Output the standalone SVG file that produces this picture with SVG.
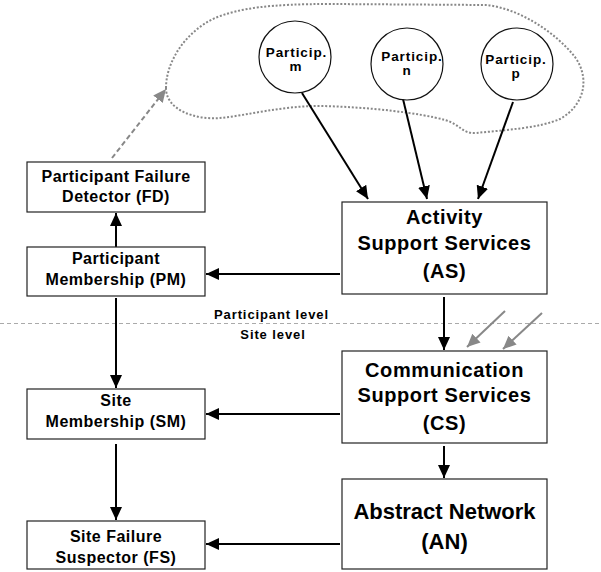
<svg xmlns="http://www.w3.org/2000/svg" width="601" height="572" viewBox="0 0 601 572">
<style>
text{font-family:"Liberation Sans",Arial,sans-serif;font-weight:bold;fill:#000;text-anchor:middle}
.box{fill:#fff;stroke:#222;stroke-width:1.2}
.circ{fill:#fff;stroke:#111;stroke-width:1.2}
.sm{font-size:16px;letter-spacing:0.5px}
.big{font-size:20px;letter-spacing:0.6px}
.an{font-size:22px}
.pc{font-size:13.5px;letter-spacing:0.9px}
.lvl{font-size:13px;letter-spacing:0.9px}
.arr{stroke:#000;stroke-width:2;fill:none;marker-end:url(#ah)}
.garr{stroke:#888;stroke-width:2;fill:none;marker-end:url(#gh)}
</style>
<defs>
<marker id="ah" markerUnits="userSpaceOnUse" markerWidth="14" markerHeight="14" viewBox="0 0 14 14" refX="13" refY="7" orient="auto">
<path d="M0,1 L13,7 L0,13 Z" fill="#000"/>
</marker>
<marker id="gh" markerUnits="userSpaceOnUse" markerWidth="14" markerHeight="14" viewBox="0 0 14 14" refX="13" refY="7" orient="auto">
<path d="M0,1 L13,7 L0,13 Z" fill="#888"/>
</marker>
</defs>

<g id="level-divider">
<line x1="0" y1="323.5" x2="601" y2="323.5" stroke="#aaa" stroke-width="1" stroke-dasharray="4 3"/>
<text class="lvl" x="271.5" y="319">Participant level</text>
<text class="lvl" x="273" y="339">Site level</text>
</g>

<g id="cloud">
<path d="M166,88 C166,62 185,32 215,18 C240,8 270,4 330,4 L487,5 C520,9 555,32 575,57 C590,78 585,105 560,119 C540,128 505,130 476,133 C462,134 460,124 445,120 C420,113 370,107 320,106 C280,106 250,115 220,118 C195,120 166,110 166,88 Z" fill="none" stroke="#888" stroke-width="2" stroke-dasharray="2 1.8"/>
</g>

<g id="connectors">
<line class="garr" x1="112" y1="158" x2="166" y2="89" stroke-dasharray="5 3"/>
<line class="arr" x1="302" y1="93" x2="368" y2="199"/>
<line class="arr" x1="403" y1="99" x2="427" y2="199"/>
<line class="arr" x1="513" y1="102" x2="478" y2="199"/>
<line class="arr" x1="340" y1="274" x2="206" y2="274"/>
<line class="arr" x1="116" y1="247" x2="116" y2="213"/>
<line class="arr" x1="116" y1="298" x2="116" y2="388"/>
<line class="arr" x1="444" y1="297" x2="444" y2="350"/>
<line class="arr" x1="340" y1="414" x2="206" y2="414"/>
<line class="arr" x1="116" y1="444" x2="116" y2="520"/>
<line class="arr" x1="444" y1="446" x2="444" y2="478"/>
<line class="arr" x1="340" y1="544" x2="206" y2="544"/>
<line class="garr" x1="505" y1="311" x2="467" y2="347"/>
<line class="garr" x1="542" y1="313" x2="503" y2="349"/>
</g>

<g id="particip-m">
<circle class="circ" cx="295" cy="57" r="36"/>
<text class="pc" x="296.5" y="57">Particip.</text>
<text class="pc" x="296" y="71">m</text>
</g>
<g id="particip-n">
<circle class="circ" cx="407" cy="64" r="36"/>
<text class="pc" x="412" y="61">Particip.</text>
<text class="pc" x="407" y="75">n</text>
</g>
<g id="particip-p">
<circle class="circ" cx="517" cy="64" r="36"/>
<text class="pc" x="516" y="64">Particip.</text>
<text class="pc" x="516" y="78">p</text>
</g>

<g id="fd">
<rect class="box" x="27" y="162" width="178" height="50"/>
<text class="sm" x="116" y="182">Participant Failure</text>
<text class="sm" x="116" y="202">Detector (FD)</text>
</g>
<g id="pm">
<rect class="box" x="27" y="247" width="178" height="49"/>
<text class="sm" x="116" y="264">Participant</text>
<text class="sm" x="116" y="285">Membership (PM)</text>
</g>
<g id="sm">
<rect class="box" x="27" y="389" width="178" height="50"/>
<text class="sm" x="116" y="406">Site</text>
<text class="sm" x="116" y="427">Membership (SM)</text>
</g>
<g id="fs">
<rect class="box" x="27" y="521" width="178" height="48"/>
<text class="sm" x="116" y="542">Site Failure</text>
<text class="sm" x="116" y="563">Suspector (FS)</text>
</g>
<g id="as">
<rect class="box" x="342" y="202" width="205" height="92"/>
<text class="big" x="444.5" y="224">Activity</text>
<text class="big" x="444.5" y="250">Support Services</text>
<text class="big" x="444.5" y="278">(AS)</text>
</g>
<g id="cs">
<rect class="box" x="342" y="351" width="205" height="92"/>
<text class="big" x="444.5" y="377">Communication</text>
<text class="big" x="444.5" y="402">Support Services</text>
<text class="big" x="444.5" y="430">(CS)</text>
</g>
<g id="an">
<rect class="box" x="342" y="479" width="205" height="90"/>
<text class="an" x="444.5" y="519">Abstract Network</text>
<text class="an" x="444.5" y="549">(AN)</text>
</g>
</svg>
